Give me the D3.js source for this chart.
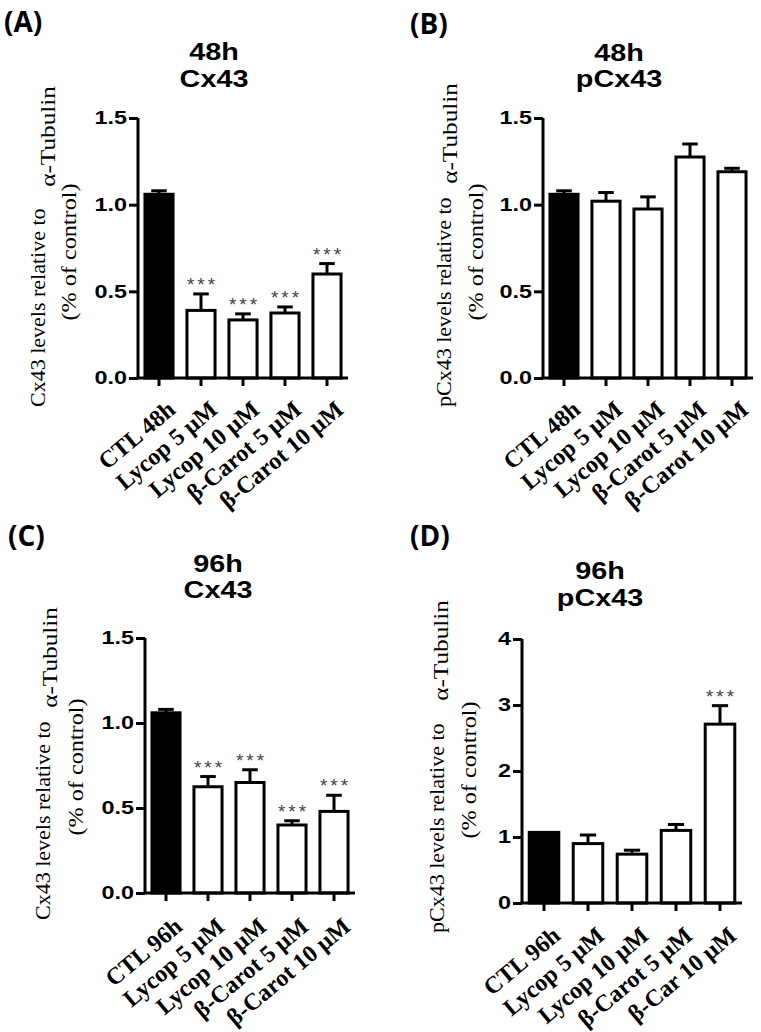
<!DOCTYPE html>
<html><head><meta charset="utf-8">
<script src="https://cdn.jsdelivr.net/npm/d3@7"></script>
<style>body{margin:0;background:#fff}svg{display:block}</style>
</head><body>
<script>
// ---------- data ----------
const categories48 = ["CTL 48h","Lycop 5 μM","Lycop 10 μM","β-Carot 5 μM","β-Carot 10 μM"];
const categories96C = ["CTL 96h","Lycop 5 μM","Lycop 10 μM","β-Carot 5 μM","β-Carot 10 μM"];
const categories96D = ["CTL 96h","Lycop 5 μM","Lycop 10 μM","β-Carot 5 μM","β-Car 10 μM"];

const cx43_48h      = [1.06, 0.39, 0.335, 0.375, 0.60];
const cx43_48h_err  = [0.02, 0.095, 0.035, 0.035, 0.06];
const cx43_48h_sig  = ["", "***", "***", "***", "***"];

const pcx43_48h     = [1.06, 1.02, 0.975, 1.275, 1.19];
const pcx43_48h_err = [0.02, 0.05, 0.07, 0.075, 0.02];
const pcx43_48h_sig = ["", "", "", "", ""];

const cx43_96h      = [1.06, 0.625, 0.65, 0.40, 0.48];
const cx43_96h_err  = [0.02, 0.06, 0.075, 0.025, 0.095];
const cx43_96h_sig  = ["", "***", "***", "***", "***"];

const pcx43_96h     = [1.07, 0.90, 0.74, 1.10, 2.71];
const pcx43_96h_err = [0.0, 0.13, 0.06, 0.09, 0.28];
const pcx43_96h_sig = ["", "", "", "", "***"];

const yTicks15 = [0, 0.5, 1.0, 1.5];
const yTickLabels15 = ["0.0", "0.5", "1.0", "1.5"];
const yTicks4 = [0, 1, 2, 3, 4];
const yTickLabels4 = ["0", "1", "2", "3", "4"];

// ---------- layout ----------
const panels = [
  {tag:"(A)", lx:4, ly:32, t1:"48h", t2:"Cx43", tx:214, ty1:60, ty2:87,
   x0:138, x1:348, y0:378, y1:118, max:1.5, ticks:yTicks15, tickLabels:yTickLabels15, labDy:21,
   cats:categories48, vals:cx43_48h, errs:cx43_48h_err, sig:cx43_48h_sig,
   ylab:"Cx43 levels relative to", l1x:45, l1y:407, ax:55, ay:86, l2x:76, l2y:252},
  {tag:"(B)", lx:410, ly:34, t1:"48h", t2:"pCx43", tx:619, ty1:61, ty2:87,
   x0:543, x1:753, y0:378, y1:118, max:1.5, ticks:yTicks15, tickLabels:yTickLabels15, labDy:21,
   cats:categories48, vals:pcx43_48h, errs:pcx43_48h_err, sig:pcx43_48h_sig,
   ylab:"pCx43 levels relative to", l1x:451, l1y:407, ax:457, ay:83, l2x:483, l2y:252},
  {tag:"(C)", lx:8, ly:546, t1:"96h", t2:"Cx43", tx:218, ty1:572, ty2:598,
   x0:145, x1:355, y0:893, y1:638, max:1.5, ticks:yTicks15, tickLabels:yTickLabels15, labDy:23,
   cats:categories96C, vals:cx43_96h, errs:cx43_96h_err, sig:cx43_96h_sig,
   ylab:"Cx43 levels relative to", l1x:50, l1y:920, ax:57, ay:607, l2x:83, l2y:767},
  {tag:"(D)", lx:410, ly:546, t1:"96h", t2:"pCx43", tx:600, ty1:579, ty2:606,
   x0:522, x1:742, y0:903, y1:639, max:4, ticks:yTicks4, tickLabels:yTickLabels4, labDy:22,
   cats:categories96D, vals:pcx43_96h, errs:pcx43_96h_err, sig:pcx43_96h_sig,
   ylab:"pCx43 levels relative to", l1x:444, l1y:933, ax:448, ay:600, l2x:476, l2y:770}
];

const svg = d3.select("body").append("svg").attr("width", 761).attr("height", 1032);
svg.append("rect").attr("width", 761).attr("height", 1032).attr("fill", "#fff");

const SANS = "'Liberation Sans', Arial, sans-serif";
const SERIF = "'Liberation Serif', 'Times New Roman', serif";

panels.forEach(p => {
  const g = svg.append("g");
  const x = d3.scaleBand().domain(p.cats).range([p.x0, p.x1]).paddingInner(0.26).paddingOuter(0.13);
  const y = d3.scaleLinear().domain([0, p.max]).range([p.y0, p.y1]);

  // panel tag
  g.append("text").attr("x", p.lx).attr("y", p.ly).text(p.tag)
    .attr("font-family", "'Open Sans', " + SANS).attr("font-weight", "bold").attr("font-size", 28).attr("fill", "#000");

  // titles
  [[p.t1, p.ty1], [p.t2, p.ty2]].forEach(([t, ty]) => {
    g.append("g").attr("transform", `translate(${p.tx},${ty}) scale(1.2,1)`)
      .append("text").text(t).attr("text-anchor", "middle")
      .attr("font-family", SANS).attr("font-weight", "bold").attr("font-size", 24).attr("fill", "#000");
  });

  // y axis label
  const ylabStyle = s => s.attr("font-family", SERIF).attr("font-size", 22).attr("fill", "#000");
  g.append("text").attr("transform", `translate(${p.l1x},${p.l1y}) rotate(-90)`)
    .attr("text-anchor", "start").text(p.ylab).call(ylabStyle);
  g.append("text").attr("transform", `translate(${p.ax},${p.ay}) rotate(-90) scale(1.15,1)`)
    .attr("text-anchor", "end").text("α-Tubulin").call(ylabStyle);
  g.append("text").attr("transform", `translate(${p.l2x},${p.l2y}) rotate(-90) scale(1.1,1)`)
    .attr("text-anchor", "middle").text("(% of control)").call(ylabStyle);

  // bars
  const bw = x.bandwidth();
  p.cats.forEach((c, i) => {
    g.append("rect")
      .attr("x", x(c) + 1.5).attr("y", y(p.vals[i]))
      .attr("width", bw - 3).attr("height", y(0) - y(p.vals[i]))
      .attr("fill", i === 0 ? "#000" : "#fff")
      .attr("stroke", "#000").attr("stroke-width", 3);
    const cx = x(c) + bw / 2;
    if (p.errs[i] > 0) {
      const top = y(p.vals[i] + p.errs[i]);
      g.append("line").attr("x1", cx).attr("x2", cx).attr("y1", y(p.vals[i])).attr("y2", top)
        .attr("stroke", "#000").attr("stroke-width", 3);
      g.append("line").attr("x1", cx - bw * 0.25).attr("x2", cx + bw * 0.25).attr("y1", top).attr("y2", top)
        .attr("stroke", "#000").attr("stroke-width", 3);
    }
    if (p.sig[i]) {
      g.append("text").attr("x", cx + 1.5).attr("y", y(p.vals[i] + p.errs[i]) - 3)
        .attr("text-anchor", "middle").text(p.sig[i])
        .attr("font-family", SANS).attr("font-size", 19).attr("letter-spacing", 3).attr("fill", "#444");
    }
  });

  // y axis
  const yAxis = d3.axisLeft(y).tickValues(p.ticks).tickSize(9).tickFormat(() => "");
  const ya = g.append("g").attr("transform", `translate(${p.x0},0)`).call(yAxis);
  ya.selectAll("path,line").attr("stroke", "#000").attr("stroke-width", 3);
  ya.select("path").attr("d", `M0,${y(0)}V${y(p.max)}`);
  p.ticks.forEach((t, i) => {
    g.append("g").attr("transform", `translate(${p.x0 - 11},${y(t)}) scale(1.3,1)`)
      .append("text").text(p.tickLabels[i]).attr("text-anchor", "end").attr("dy", "0.36em")
      .attr("font-family", SANS).attr("font-weight", "bold").attr("font-size", 18).attr("fill", "#000");
  });

  // x axis
  const xAxis = d3.axisBottom(x).tickSize(8).tickSizeOuter(0).tickFormat(() => "");
  const xa = g.append("g").attr("transform", `translate(0,${p.y0})`).call(xAxis);
  xa.selectAll("path,line").attr("stroke", "#000").attr("stroke-width", 3);
  xa.select("path").attr("d", `M${p.x0 - 1.5},0H${p.x1}`);

  p.cats.forEach(c => {
    const cx = x(c) + bw / 2;
    g.append("text")
      .attr("transform", `translate(${cx + 7},${p.y0 + p.labDy}) rotate(-40)`)
      .attr("text-anchor", "end").attr("dy", "0.7em").text(c)
      .attr("font-family", SERIF).attr("font-weight", "bold").attr("font-size", 24).attr("fill", "#000");
  });
});
</script>
</body></html>
